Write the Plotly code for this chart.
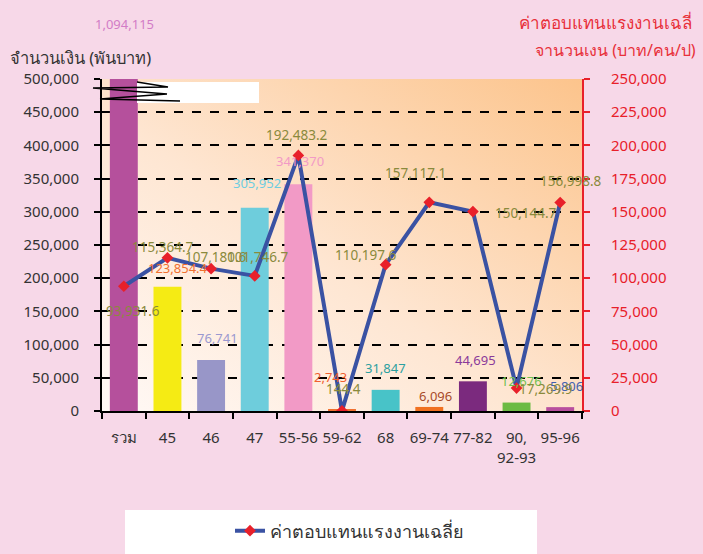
import base64
import plotly.graph_objects as go

categories = ["รวม", "45", "46", "47", "55-56", "59-62", "68", "69-74", "77-82", "90,<br>92-93", "95-96"]
bar_values = [1094115, 187000, 76741, 305952, 341370, 2743, 31847, 6096, 44695, 12676, 5806]
bar_labels = ["1,094,115", "123,854.4", "76,741", "305,952", "341,370", "2,743", "31,847", "6,096", "44,695", "12,676", "5,806"]
line_values = [93931.6, 115364.7, 107180.6, 101746.7, 192483.2, 144.4, 110197.6, 157117.1, 150144.7, 17269.9, 156998.8]
line_labels = ["93,931.6", "115,364.7", "107,180.6", "101,746.7", "192,483.2", "144.4", "110,197.6", "157,117.1", "150,144.7", "17,269.9", "156,998.8"]
line_name = "ค่าตอบแทนแรงงานเฉลี่ย"

bar_colors = ["#B5509C", "#F5EB14", "#9896C8", "#6ECDDC", "#F29AC6", "#F07030", "#48C3C8", "#F07020", "#7B2A7E", "#6CBB44", "#B84F9E"]
bar_label_colors = ["#D27CC6", "#F07030", "#9A98D0", "#6ECDE0", "#F29AC6", "#F06030", "#2AA0A0", "#A84A28", "#8A3A9A", "#70C050", "#4060B0"]
bar_label_shift = [(1, 55), (11, 19), (6, 22), (2, 25), (2, 23), (-12, 32), (0, 22), (6, 11), (3, 21), (5, 22), (6, 21)]
line_label_shift = [(9, -25), (-4, 11), (5, 12), (3, 19), (-1, 20), (1, 22), (-20, 10), (-14, 29), (53, -1), (29, -1), (11, 22)]

FONT = "Noto Sans, DejaVu Sans, sans-serif"
L, R, T, B = 102, 121, 79, 143
PW, PH = 703 - L - R, 554 - T - B

def px(x):
    return (x - L) / PW

def py(y):
    return (554 - B - y) / PH

svg = ('<svg xmlns="http://www.w3.org/2000/svg" width="100" height="100" preserveAspectRatio="none">'
       '<defs><linearGradient id="g" x1="0" y1="1" x2="1" y2="0">'
       '<stop offset="0" stop-color="#FFF9F6"/><stop offset="0.45" stop-color="#FEE6D2"/>'
       '<stop offset="1" stop-color="#FCC48C"/></linearGradient></defs>'
       '<rect width="100" height="100" fill="url(#g)"/></svg>')
bg_src = "data:image/svg+xml;base64," + base64.b64encode(svg.encode()).decode()

fig = go.Figure()
fig.add_trace(go.Bar(x=categories, y=bar_values, marker=dict(color=bar_colors, line=dict(width=0)),
                     showlegend=False, hoverinfo="skip"))
fig.add_trace(go.Scatter(x=categories, y=line_values, yaxis="y2", name=line_name, mode="lines+markers",
                         line=dict(color="#3A52A3", width=4),
                         marker=dict(symbol="diamond", size=9, color="#E8202A")))

ann = []
for i, (v, t, col, (dx, dy)) in enumerate(zip(bar_values, bar_labels, bar_label_colors, bar_label_shift)):
    ann.append(dict(x=i, y=min(v, 500000), xref="x", yref="y", text=t, showarrow=False,
                    xshift=dx, yshift=dy, font=dict(family=FONT, size=13, color=col)))
for i, (v, t, (dx, dy)) in enumerate(zip(line_values, line_labels, line_label_shift)):
    ann.append(dict(x=i, y=v, xref="x", yref="y2", text=t, showarrow=False,
                    xshift=dx, yshift=dy, font=dict(family=FONT, size=13.5, color="#8A8A3C")))
ann.append(dict(x=px(8), y=py(57), xref="paper", yref="paper", xanchor="left", yanchor="middle",
                text="จำนวนเงิน (พันบาท)", showarrow=False, font=dict(family=FONT, size=16.5, color="#333333")))
ann.append(dict(x=px(517), y=py(22), xref="paper", yref="paper", xanchor="left", yanchor="middle",
                text="ค่าตอบแทนแรงงานเฉลี่", showarrow=False, font=dict(family=FONT, size=17, color="#E8303A")))
ann.append(dict(x=px(533), y=py(50), xref="paper", yref="paper", xanchor="left", yanchor="middle",
                text="จานวนเงน (บาท/คน/ป)", showarrow=False, font=dict(family=FONT, size=16, color="#E8303A")))

shapes = [
    dict(type="rect", xref="paper", yref="paper", x0=px(137), x1=px(259), y0=py(103), y1=py(82),
         fillcolor="white", line=dict(width=0), layer="above"),
    dict(type="path", xref="paper", yref="paper",
         path="M %f %f L %f %f L %f %f L %f %f L %f %f L %f %f" % (
             px(137), py(82), px(168), py(87), px(93), py(88), px(167), py(94), px(100), py(99), px(180), py(101)),
         line=dict(color="black", width=1.5), layer="above"),
    dict(type="rect", xref="paper", yref="paper", x0=px(125), x1=px(537), y0=py(560), y1=py(510),
         fillcolor="white", line=dict(width=0), layer="below"),
]

fig.update_layout(
    width=703, height=554,
    margin=dict(l=L, r=R, t=T, b=B, autoexpand=False),
    paper_bgcolor="#F7D8E8", plot_bgcolor="rgba(0,0,0,0)",
    font=dict(family=FONT, size=15, color="#333333"),
    bargap=0.36,
    images=[dict(source=bg_src, xref="paper", yref="paper", x=0, y=1, sizex=1, sizey=1,
                 sizing="stretch", xanchor="left", yanchor="top", layer="below")],
    xaxis=dict(type="category", range=[-0.5, 10.5], showline=True, linecolor="black", linewidth=2,
               ticks="outside", tickson="boundaries", ticklen=6, tickcolor="black", tickwidth=2, tickangle=0,
               tickfont=dict(size=15, color="#333333"), showgrid=False, ticklabelstandoff=12),
    yaxis=dict(range=[0, 500000], dtick=50000, tickformat=",", showline=True, linecolor="black", linewidth=2,
               ticks="outside", ticklen=6, tickcolor="black", tickwidth=2,
               showgrid=True, gridcolor="black", gridwidth=1.5, griddash="dash",
               tickfont=dict(size=15, color="#333333"), ticklabelstandoff=12, zeroline=False),
    yaxis2=dict(range=[0, 250000], dtick=25000, tickformat=",", overlaying="y", side="right",
                showline=True, linecolor="#E8202A", linewidth=2, ticks="outside", ticklen=6,
                tickcolor="#E8202A", tickwidth=2, showgrid=False, zeroline=False,
                tickfont=dict(size=15, color="#E8202A"), ticklabelstandoff=18),
    legend=dict(x=px(230), y=py(531), xanchor="left", yanchor="middle", orientation="h",
                bgcolor="rgba(0,0,0,0)", font=dict(size=18, color="#333333")),
    annotations=ann, shapes=shapes,
)
fig.write_html("out.html", config={"displayModeBar": False},
               post_script="document.body.style.margin='0';document.body.style.overflow='hidden';")
